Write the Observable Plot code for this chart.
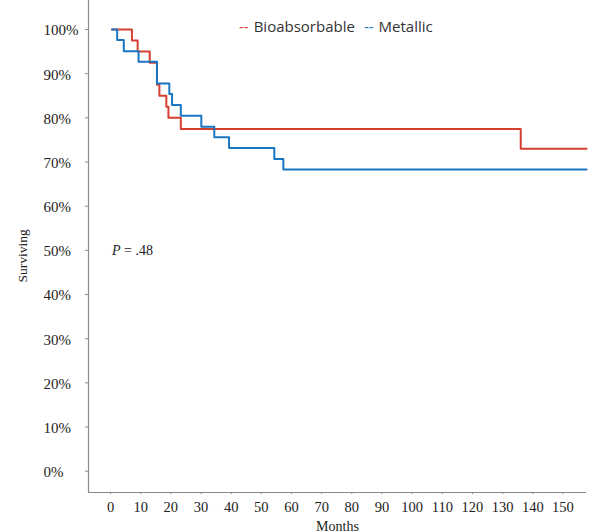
<!DOCTYPE html>
<html>
<head>
<meta charset="utf-8">
<script src="https://cdn.jsdelivr.net/npm/d3@7"></script>
<script src="https://cdn.jsdelivr.net/npm/@observablehq/plot@0.6"></script>
<style>
  html, body { margin: 0; padding: 0; background: #fff; }
  #wrap { position: relative; width: 592px; height: 532px; }
  #legend { position: absolute; left: 239px; top: 16px; font-family: "Open Sans", sans-serif; font-size: 15px; color: #333; white-space: nowrap; line-height: 20px; }
  #legend span.k { margin-right: 5px; }
</style>
</head>
<body>
<div id="wrap"><div id="legend"></div></div>
<script>
// Series names and colours
const seriesNames = ["Bioabsorbable", "Metallic"];
const seriesColors = ["#d43f2f", "#1a75c2"];

// Kaplan–Meier steps (months, proportion surviving)
const bioMonths = [0, 6.6, 8.5, 12.5, 14.9, 15.7, 18.0, 18.7, 22.8, 135.5, 157.3];
const bioSurv   = [1.0, 0.975, 0.95, 0.925, 0.875, 0.85, 0.825, 0.80, 0.775, 0.73, 0.73];
const metMonths = [0, 1.7, 3.9, 8.8, 14.9, 19.0, 19.9, 22.8, 29.6, 33.9, 38.8, 53.8, 56.8, 157.3];
const metSurv   = [1.0, 0.976, 0.951, 0.927, 0.878, 0.854, 0.829, 0.805, 0.780, 0.756, 0.732, 0.707, 0.683, 0.683];

// Tick values
const xTicks = [0, 10, 20, 30, 40, 50, 60, 70, 80, 90, 100, 110, 120, 130, 140, 150];
const yTicks = [0, 0.1, 0.2, 0.3, 0.4, 0.5, 0.6, 0.7, 0.8, 0.9, 1.0];
const pLabel = "= .48";

const bio = bioMonths.map((m, i) => ({month: m, surv: bioSurv[i], group: seriesNames[0]}));
const met = metMonths.map((m, i) => ({month: m, surv: metSurv[i], group: seriesNames[1]}));

const axisColor = "#8a8a8a";
const serif = "'Liberation Serif', 'Times New Roman', serif";

const chart = Plot.plot({
  width: 592,
  height: 532,
  marginLeft: 88,
  marginRight: 6,
  marginTop: 0,
  marginBottom: 40,
  style: {fontFamily: serif, background: "white", color: "#222"},
  x: {domain: [-7.8, 157.3], axis: null},
  y: {domain: [-0.0482, 1.0657], axis: null},
  marks: [
    // axis lines
    Plot.ruleX([-7.8], {stroke: axisColor, strokeWidth: 1.2}),
    Plot.ruleY([-0.0482], {stroke: axisColor, strokeWidth: 1.2}),
    // y ticks (short, no labels) and left-aligned labels
    Plot.axisY({ticks: yTicks, tickSize: 3, tickFormat: () => "", stroke: axisColor, label: null, anchor: "left"}),
    Plot.text(yTicks, {
      y: d => d, text: d => Math.round(d * 100) + "%", frameAnchor: "left",
      textAnchor: "start", dx: -45, dy: 1, fontSize: 15, fill: "#222"
    }),
    // x ticks and labels
    Plot.axisX({
      ticks: xTicks, tickSize: 2, tickPadding: 7, stroke: axisColor,
      fontSize: 14.5, tickFormat: d => d, label: null, anchor: "bottom", fill: "#222", dx: -1.5
    }),
    Plot.text(["Months"], {frameAnchor: "bottom", text: d => d, dy: 38, fontSize: 14, fill: "#222"}),
    Plot.text(["Surviving"], {frameAnchor: "left", text: d => d, rotate: -90, dx: -66, dy: 36, fontSize: 13.5, fill: "#222"}),
    // P value
    Plot.text([0.5], {x: 0, y: d => d, text: () => "P", textAnchor: "start", fontStyle: "italic", fontSize: 14, fill: "#222"}),
    Plot.text([0.5], {x: 0, y: d => d, text: () => pLabel, textAnchor: "start", fontSize: 14, fill: "#222", dx: 12}),
    // curves
    Plot.line(bio, {x: "month", y: "surv", curve: "step-after", stroke: seriesColors[0], strokeWidth: 2}),
    Plot.line(met, {x: "month", y: "surv", curve: "step-after", stroke: seriesColors[1], strokeWidth: 2})
  ]
});

document.getElementById("wrap").prepend(chart);

const legend = document.getElementById("legend");
legend.innerHTML = seriesNames.map((n, i) =>
  `<span class="k" style="color:${seriesColors[i]}">--</span><span style="margin-right:${i === 0 ? 9 : 0}px">${n}</span>`
).join("");
</script>
</body>
</html>
